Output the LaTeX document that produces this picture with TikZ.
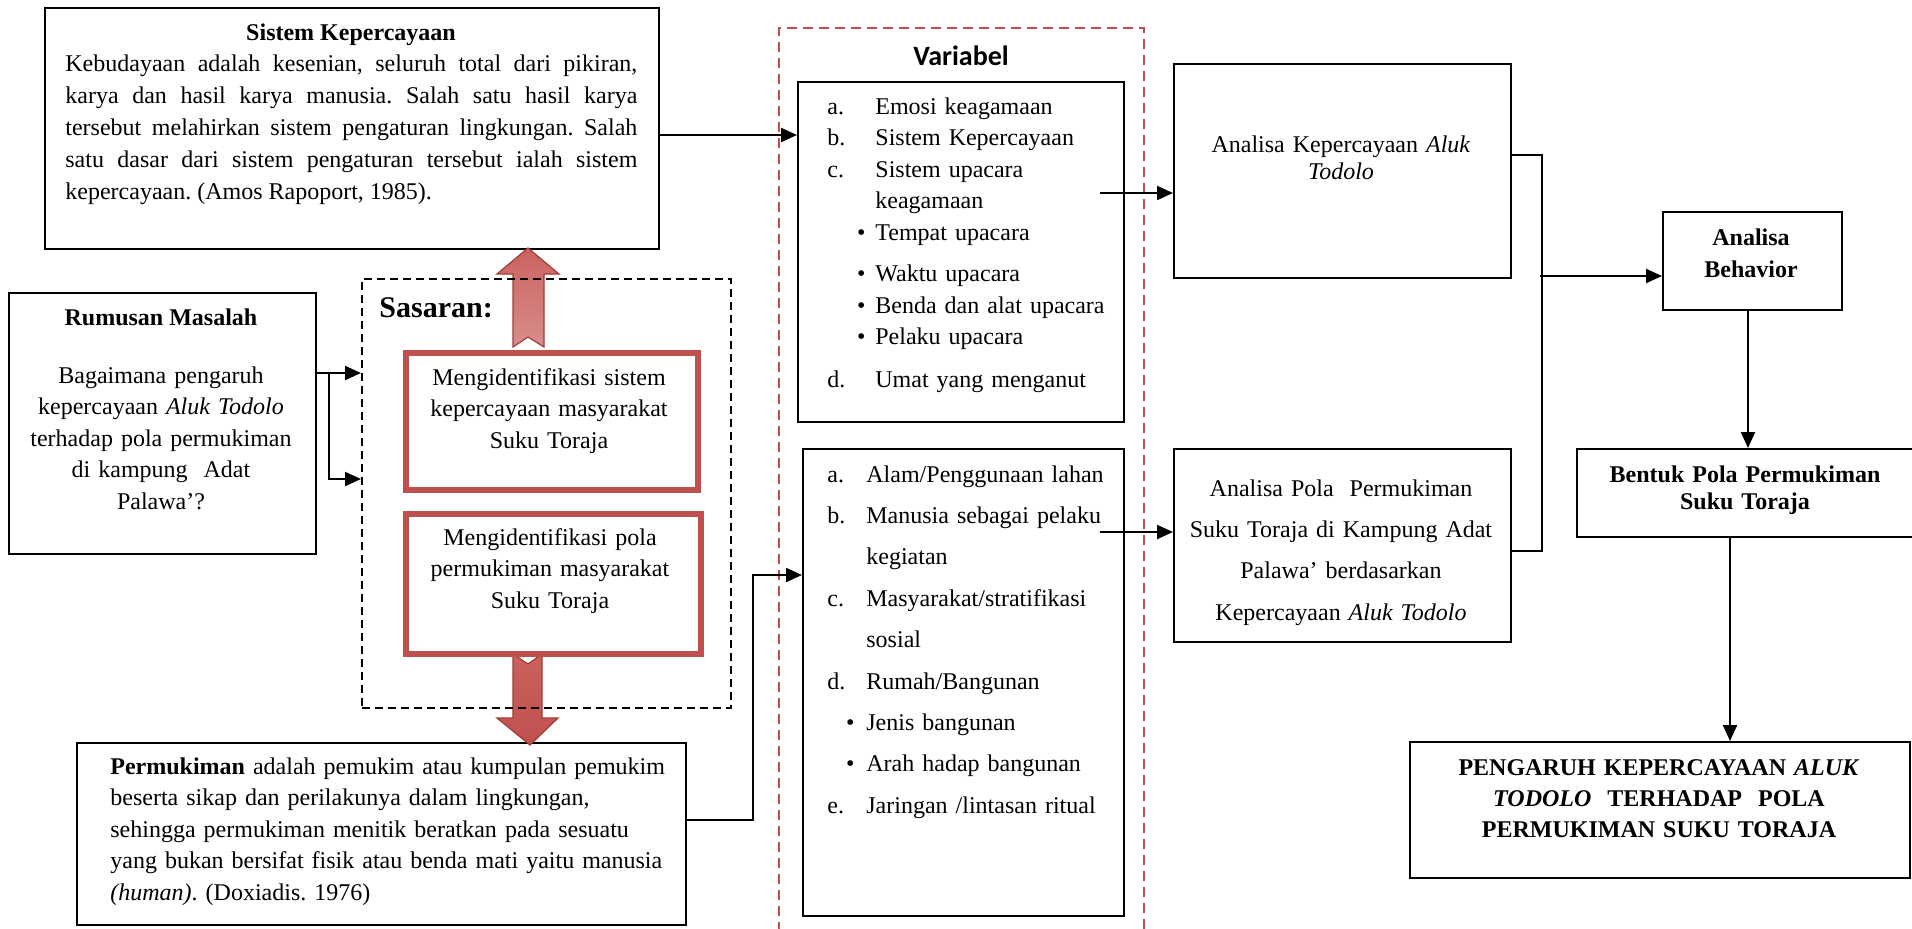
\documentclass[tikz,border=0pt]{standalone}
\usepackage{fontspec}
\setmainfont{Liberation Serif}
\newfontfamily\calibri{Carlito}
\usetikzlibrary{arrows.meta}
\frenchspacing

\definecolor{merah}{HTML}{C0504D}
\definecolor{merahtua}{HTML}{A13C39}
\definecolor{merahmuda}{HTML}{D88E8C}
\definecolor{merahsedang}{HTML}{CA625F}

\begin{document}
\begin{tikzpicture}[x=0.5pt,y=-0.5pt,
  box/.style={draw,line width=1.1pt,inner sep=0pt,anchor=north west},
  goalbox/.style={draw=merah,line width=3pt,inner sep=0pt,anchor=north west},
  dashbox/.style={draw,line width=1pt,dash pattern=on 4pt off 2.5pt,inner sep=0pt,anchor=north west},
  reddashbox/.style={draw=merah,line width=1pt,dash pattern=on 5pt off 3pt,inner sep=0pt,anchor=north west},
  txt/.style={inner sep=0pt,font=\fontsize{12}{15.75}\selectfont},
  link/.style={line width=1.1pt,-{Triangle[length=8pt,width=7pt]}},
  joinline/.style={line width=1.1pt},
  blockarrow/.style={draw=merahtua,line width=0.6pt}]
\useasboundingbox (0,0) rectangle (1912,928);

\node[box,minimum width=307pt,minimum height=120.5pt] (sistem) at (44,7) {};
\node[box,minimum width=153.5pt,minimum height=130.5pt] (rumusan) at (8,292) {};
\node[box,minimum width=304.5pt,minimum height=91pt] (permukiman) at (76,742) {};
\node[reddashbox,minimum width=182.5pt,minimum height=460pt] (variabel) at (778,27) {};
\node[box,minimum width=163pt,minimum height=170pt] (var1) at (797,81) {};
\node[box,minimum width=160.5pt,minimum height=233.5pt] (var2) at (802,448) {};
\node[box,minimum width=168.5pt,minimum height=107pt] (ankep) at (1173,63) {};
\node[box,minimum width=168.5pt,minimum height=96.5pt] (anpola) at (1173,448) {};
\node[box,minimum width=89.5pt,minimum height=49pt] (behavior) at (1662,211) {};
\node[box,minimum width=180pt,minimum height=44pt] (bentuk) at (1576,448) {};
\node[box,minimum width=250pt,minimum height=68pt] (hasil) at (1409,741) {};

% block arrows out of the sasaran
\shadedraw[blockarrow,top color=merahsedang,middle color=merah,bottom color=merahmuda]
  (513,347) -- (513,274) -- (497,274) -- (528,248) -- (559,274) -- (544,274) -- (544,347) -- (528,337) -- cycle;
\shadedraw[blockarrow,top color=merahsedang,middle color=merahmuda,bottom color=merah]
  (513,654) -- (528,664) -- (542,654) -- (542,718) -- (558,718) -- (530,745) -- (497,718) -- (513,718) -- cycle;

\node[dashbox,minimum width=184.5pt,minimum height=214.5pt] (sasaran) at (361,278) {};
\node[goalbox,minimum width=146pt,minimum height=68.5pt] (idsistem) at (403,350) {};
\node[goalbox,minimum width=147.5pt,minimum height=70pt] (idpola) at (403,511) {};

\node[txt,anchor=base] (sistemttl) at (351,40) {\bfseries Sistem Kepercayaan};
\node[txt,anchor=base west,text width=286pt,align=justify,font=\fontsize{12}{16}\selectfont] (sistemtxt) at (65,71)
  {Kebudayaan adalah kesenian, seluruh total dari pikiran,\linebreak
   karya dan hasil karya manusia. Salah satu hasil karya\linebreak
   tersebut melahirkan sistem pengaturan lingkungan. Salah\linebreak
   satu dasar dari sistem pengaturan tersebut ialah sistem\linebreak
   kepercayaan. (Amos Rapoport, 1985).};

\node[txt,anchor=base] (rumusanttl) at (161,325) {\bfseries Rumusan Masalah};
\node[txt,anchor=base,text width=150pt,align=center] (rumusantxt) at (161,383)
  {Bagaimana pengaruh\\ kepercayaan \textit{Aluk Todolo}\\ terhadap pola permukiman\\ di kampung\ \ Adat\\ Palawa’?};

\node[anchor=base west,inner sep=0pt,font=\bfseries\fontsize{15}{18}\selectfont] (sasaranttl) at (379,317) {Sasaran:};
\node[txt,anchor=base,text width=140pt,align=center] (idsistemtxt) at (549,385)
  {Mengidentifikasi sistem\\ kepercayaan masyarakat\\ Suku Toraja};
\node[txt,anchor=base,text width=140pt,align=center] (idpolatxt) at (550,545)
  {Mengidentifikasi pola\\ permukiman masyarakat\\ Suku Toraja};

\node[txt,anchor=base west,text width=290pt,align=left,font=\fontsize{12}{15.8}\selectfont] (permukimantxt) at (110,774)
  {\textbf{Permukiman} adalah pemukim atau kumpulan pemukim\\
   beserta sikap dan perilakunya dalam lingkungan,\\
   sehingga permukiman menitik beratkan pada sesuatu\\
   yang bukan bersifat fisik atau benda mati yaitu manusia\\
   \textit{(human)}. (Doxiadis. 1976)};

\node[anchor=base,inner sep=0pt,font=\calibri\bfseries\fontsize{14}{16}\selectfont] (variabelttl) at (961,65) {Variabel};
\node[txt,anchor=base west,text width=150pt,align=left] (var1txt) at (827,114)
  {\makebox[24pt][l]{a.}Emosi keagamaan\\
   \makebox[24pt][l]{b.}Sistem Kepercayaan\\
   \makebox[24pt][l]{c.}Sistem upacara\\
   \hspace*{24pt}keagamaan\\
   \makebox[24pt][r]{\textbullet\hspace{5pt}}Tempat upacara\\[5pt]
   \makebox[24pt][r]{\textbullet\hspace{5pt}}Waktu upacara\\
   \makebox[24pt][r]{\textbullet\hspace{5pt}}Benda dan alat upacara\\
   \makebox[24pt][r]{\textbullet\hspace{5pt}}Pelaku upacara\\[5.5pt]
   \makebox[24pt][l]{d.}Umat yang menganut};
\node[txt,anchor=base west,text width=150pt,align=left,font=\fontsize{12}{20.7}\selectfont] (var2txt) at (827,482)
  {\makebox[19.5pt][l]{a.}Alam/Penggunaan lahan\\
   \makebox[19.5pt][l]{b.}Manusia sebagai pelaku\\
   \hspace*{19.5pt}kegiatan\\
   \makebox[19.5pt][l]{c.}Masyarakat/stratifikasi\\
   \hspace*{19.5pt}sosial\\
   \makebox[19.5pt][l]{d.}Rumah/Bangunan\\
   \makebox[19.5pt][r]{\textbullet\hspace{6pt}}Jenis bangunan\\
   \makebox[19.5pt][r]{\textbullet\hspace{6pt}}Arah hadap bangunan\\
   \makebox[19.5pt][l]{e.}Jaringan /lintasan ritual};

\node[txt,anchor=base,text width=165pt,align=center,font=\fontsize{12}{13.6}\selectfont] (ankeptxt) at (1341,152)
  {Analisa Kepercayaan \textit{Aluk}\\ \textit{Todolo}};
\node[txt,anchor=base,text width=165pt,align=center,font=\fontsize{12}{20.7}\selectfont] (anpolatxt) at (1341,496)
  {Analisa Pola\ \ Permukiman\\ Suku Toraja di Kampung Adat\\ Palawa’ berdasarkan\\ Kepercayaan \textit{Aluk Todolo}};
\node[txt,anchor=base,text width=85pt,align=center,font=\bfseries\fontsize{12}{16}\selectfont] (behaviortxt) at (1751,245)
  {Analisa\\ Behavior};
\node[txt,anchor=base,text width=170pt,align=center,font=\bfseries\fontsize{12}{13.6}\selectfont] (bentuktxt) at (1745,482)
  {Bentuk Pola Permukiman\\ Suku Toraja};
\node[txt,anchor=base,text width=240pt,align=center,font=\bfseries\fontsize{12}{15.5}\selectfont] (hasiltxt) at (1659,775)
  {PENGARUH KEPERCAYAAN \textit{ALUK}\\ \textit{TODOLO}\ \ TERHADAP\ \ POLA\\ PERMUKIMAN SUKU TORAJA};

\coordinate (rsplit) at (329,373);
\coordinate (v1out) at (1100,193);
\coordinate (v2out) at (1100,532);
\coordinate (join) at (1540,276);

\draw[link] (sistem.east |- 0,135) -- (var1.west |- 0,135);
\draw[link] (rumusan.east |- rsplit) -- (sasaran.west |- rsplit);
\draw[link] (rsplit) |- (sasaran.west |- 0,479);
\draw[link] (permukiman.east |- 0,820) -- ++(66,0) |- (var2.west |- 0,575);
\draw[link] (v1out) -- (ankep.west |- v1out);
\draw[link] (v2out) -- (anpola.west |- v2out);
\draw[joinline] (ankep.east |- 0,155) -- ++(30,0) |- (anpola.east |- 0,551);
\draw[link] (join) -- (behavior.west |- join);
\draw[link] (behavior.south -| 1748,0) -- (bentuk.north -| 1748,0);
\draw[link] (bentuk.south -| 1730,0) -- (hasil.north -| 1730,0);
\end{tikzpicture}
\end{document}
